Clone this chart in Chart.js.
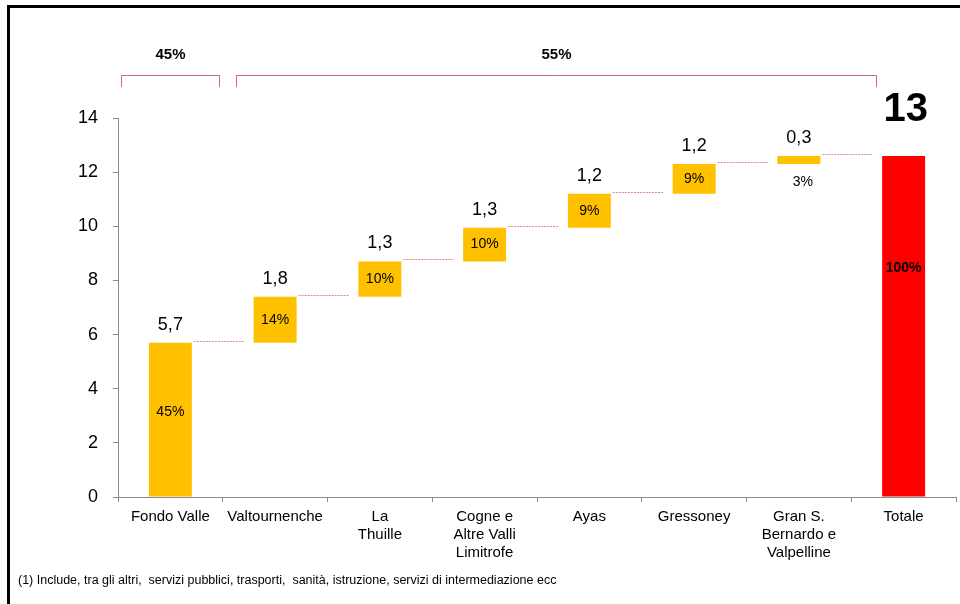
<!doctype html>
<html>

<head>
	<title>Waterfall valli</title>
	<script src="https://cdn.jsdelivr.net/npm/chart.js@4.4.1/dist/chart.umd.min.js"></script>
	<style>
		html, body { margin: 0; padding: 0; background: #fff; }
		#holder { position: relative; width: 960px; height: 604px; overflow: hidden; }
		#frame { position: absolute; left: 7px; top: 5px; width: 1000px; height: 700px;
			border-left: 3px solid #000; border-top: 3px solid #000; }
		#chart-area { position: absolute; left: 0; top: 0; }
		#note { position: absolute; left: 18px; top: 573px; font: 12.5px "Liberation Sans", Arial, sans-serif;
			color: #000; white-space: pre; }
	</style>
</head>

<body>
	<div id="holder">
		<div id="frame"></div>
		<canvas id="chart-area" width="960" height="604"></canvas>
		<div id="note">(1) Include, tra gli altri,  servizi pubblici, trasporti,  sanità, istruzione, servizi di intermediazione ecc</div>
	</div>

	<script>
		var categories = [
			'Fondo Valle', 'Valtournenche', ['La', 'Thuille'], ['Cogne e', 'Altre Valli', 'Limitrofe'],
			'Ayas', 'Gressoney', ['Gran S.', 'Bernardo e', 'Valpelline'], 'Totale'
		];
		var increments = [5.7, 1.7, 1.3, 1.25, 1.25, 1.1, 0.3];
		var totalValue = 12.6;
		var valueLabels = ['5,7', '1,8', '1,3', '1,3', '1,2', '1,2', '0,3', '13'];
		var shareLabels = ['45%', '14%', '10%', '10%', '9%', '9%', '3%', '100%'];
		var groupLabels = ['45%', '55%'];
		var yTicks = [0, 2, 4, 6, 8, 10, 12, 14];

		// floating bars [start, end]
		var bars = [];
		var run = 0;
		increments.forEach(function(v) {
			bars.push([run, run + v]);
			run += v;
		});
		bars.push([0, totalValue]);

		var FONT = '"Liberation Sans", Arial, sans-serif';

		var labelsPlugin = {
			id: 'waterfallLabels',
			afterDatasetsDraw: function(chart) {
				var c = chart.ctx;
				var meta = chart.getDatasetMeta(0);
				var y = chart.scales.y;
				c.save();
				// connectors
				c.strokeStyle = '#d98c8c';
				c.lineWidth = 1;
				c.setLineDash([2, 1]);
				for (var i = 0; i < meta.data.length - 1; i++) {
					var a = meta.data[i], b = meta.data[i + 1];
					var ly = Math.round(y.getPixelForValue(bars[i][1])) - 1.5;
					c.beginPath();
					c.moveTo(a.x + a.width / 2 + 2, ly);
					c.lineTo(b.x - b.width / 2 - 9, ly);
					c.stroke();
				}
				c.setLineDash([]);
				c.fillStyle = '#000';
				c.textAlign = 'center';
				c.textBaseline = 'middle';
				meta.data.forEach(function(el, i) {
					var top = y.getPixelForValue(bars[i][1]);
					var bot = y.getPixelForValue(bars[i][0]);
					var last = i === meta.data.length - 1;
					if (last) {
						c.font = 'bold 40px ' + FONT;
						c.fillText(valueLabels[i], el.x + 2, top - 46);
						c.font = 'bold 14px ' + FONT;
						c.fillText(shareLabels[i], el.x, top + (bot - top) * 0.33);
					} else {
						c.font = '18px ' + FONT;
						c.fillText(valueLabels[i], el.x, top - 18);
						c.font = '14px ' + FONT;
						if (bot - top < 15) {
							c.fillText(shareLabels[i], el.x + 4, bot + 18);
						} else if (i === 0) {
							c.fillText(shareLabels[i], el.x, top + (bot - top) * 0.45);
						} else {
							c.fillText(shareLabels[i], el.x, (top + bot) / 2);
						}
					}
				});
				// group brackets
				var x = chart.scales.x;
				var cw = x.getPixelForValue(1) - x.getPixelForValue(0);
				var spans = [
					[x.getPixelForValue(0) - 0.47 * cw, x.getPixelForValue(0) + 0.46 * cw],
					[x.getPixelForValue(1) - 0.37 * cw, x.getPixelForValue(7) - 0.26 * cw]
				];
				c.strokeStyle = '#cf6b6b';
				c.lineWidth = 1;
				c.font = 'bold 15px ' + FONT;
				spans.forEach(function(s, k) {
					var x0 = Math.round(s[0]) + 0.5, x1 = Math.round(s[1]) + 0.5;
					c.beginPath();
					c.moveTo(x0, 87);
					c.lineTo(x0, 75.5);
					c.lineTo(x1, 75.5);
					c.lineTo(x1, 87);
					c.stroke();
					c.fillText(groupLabels[k], (x0 + x1) / 2, 55);
				});
				c.restore();
			}
		};

		var ctx = document.getElementById('chart-area').getContext('2d');
		window.myChart = new Chart(ctx, {
			type: 'bar',
			data: {
				labels: categories,
				datasets: [{
					data: bars,
					backgroundColor: function(ctx) {
						return ctx.dataIndex === categories.length - 1 ? '#ff0000' : '#ffc000';
					},
					borderSkipped: false,
					borderWidth: 0,
					barPercentage: 0.41,
					categoryPercentage: 1
				}]
			},
			plugins: [labelsPlugin],
			options: {
				responsive: false,
				animation: false,
				layout: { padding: { top: 118, right: 4, left: 0, bottom: 0 } },
				plugins: {
					legend: { display: false },
					tooltip: { enabled: false }
				},
				scales: {
					x: {
						grid: { offset: true, drawOnChartArea: false, tickLength: 5, color: '#8c8c8c' },
						border: { color: '#8c8c8c' },
						ticks: { color: '#000', font: { family: FONT, size: 15, lineHeight: 1.2 }, padding: 6, maxRotation: 0, autoSkip: false },
						afterFit: function(s) { s.height = 107; }
					},
					y: {
						min: 0,
						max: 14,
						afterBuildTicks: function(s) { s.ticks = yTicks.map(function(v) { return { value: v }; }); },
						grid: { drawOnChartArea: false, tickLength: 5, color: '#8c8c8c' },
						border: { color: '#8c8c8c' },
						ticks: { color: '#000', font: { family: FONT, size: 18 }, padding: 15 },
						afterFit: function(s) { s.width = 118; }
					}
				}
			}
		});
	</script>
</body>

</html>
